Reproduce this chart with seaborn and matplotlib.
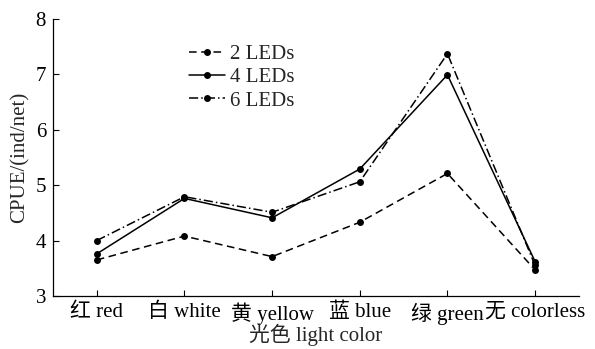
import matplotlib
matplotlib.use("Agg")
import matplotlib.pyplot as plt
import seaborn as sns
import pandas as pd

categories = ["红 red", "白 white", "黄 yellow", "蓝 blue", "绿 green", "无 colorless"]
leds2 = [3.65, 4.08, 3.71, 4.33, 5.21, 3.47]
leds4 = [3.76, 4.76, 4.41, 5.29, 6.99, 3.62]
leds6 = [4.00, 4.79, 4.51, 5.06, 7.37, 3.55]
series = ["2 LEDs", "4 LEDs", "6 LEDs"]
yticks = [3, 4, 5, 6, 7, 8]

sns.set_theme(style="ticks")
plt.rcParams['font.family'] = ['Liberation Serif', 'Noto Sans CJK SC']
plt.rcParams['font.weight'] = 'light'

rows = []
for name, vals in zip(series, [leds2, leds4, leds6]):
    for i, v in enumerate(vals):
        rows.append({"x": i, "y": v, "s": name})
df = pd.DataFrame(rows)

fig = plt.figure(figsize=(5.95, 3.49), dpi=100)
ax = fig.add_axes([0.089, 0.152, 0.884, 0.794])

dashes = {"2 LEDs": (5, 3), "4 LEDs": "", "6 LEDs": (6, 2, 1, 2)}
sns.lineplot(data=df, x="x", y="y", hue="s", style="s", dashes=dashes,
             palette=["black"] * 3, markers={"2 LEDs": "o", "4 LEDs": "o", "6 LEDs": "o"},
             markersize=5, markeredgewidth=0, linewidth=1.1, ax=ax, legend=True)

fs = 15
ax.set_xlim(-0.5, 5.5)
ax.set_ylim(3, 8)
ax.set_yticks(yticks)
ax.set_xticks(range(len(categories)))
ax.set_xticklabels(categories)
ax.tick_params(axis="both", direction="in", length=4, width=0.8, labelsize=fs, colors="black", pad=5)
for sp in ["top", "right"]:
    ax.spines[sp].set_visible(False)
for sp in ["left", "bottom"]:
    ax.spines[sp].set_color("black")
    ax.spines[sp].set_linewidth(0.9)
ax.set_xlabel("光色 light color", fontsize=fs, labelpad=-1)
ax.set_ylabel("CPUE/(ind/net)", fontsize=fs, labelpad=4)

leg = ax.legend(title=None, frameon=False, fontsize=fs, loc="upper left",
                bbox_to_anchor=(0.238, 0.945), handlelength=1.75, handletextpad=0.25,
                labelspacing=0.18, borderpad=0)

fig.savefig("out.png", dpi=100)
